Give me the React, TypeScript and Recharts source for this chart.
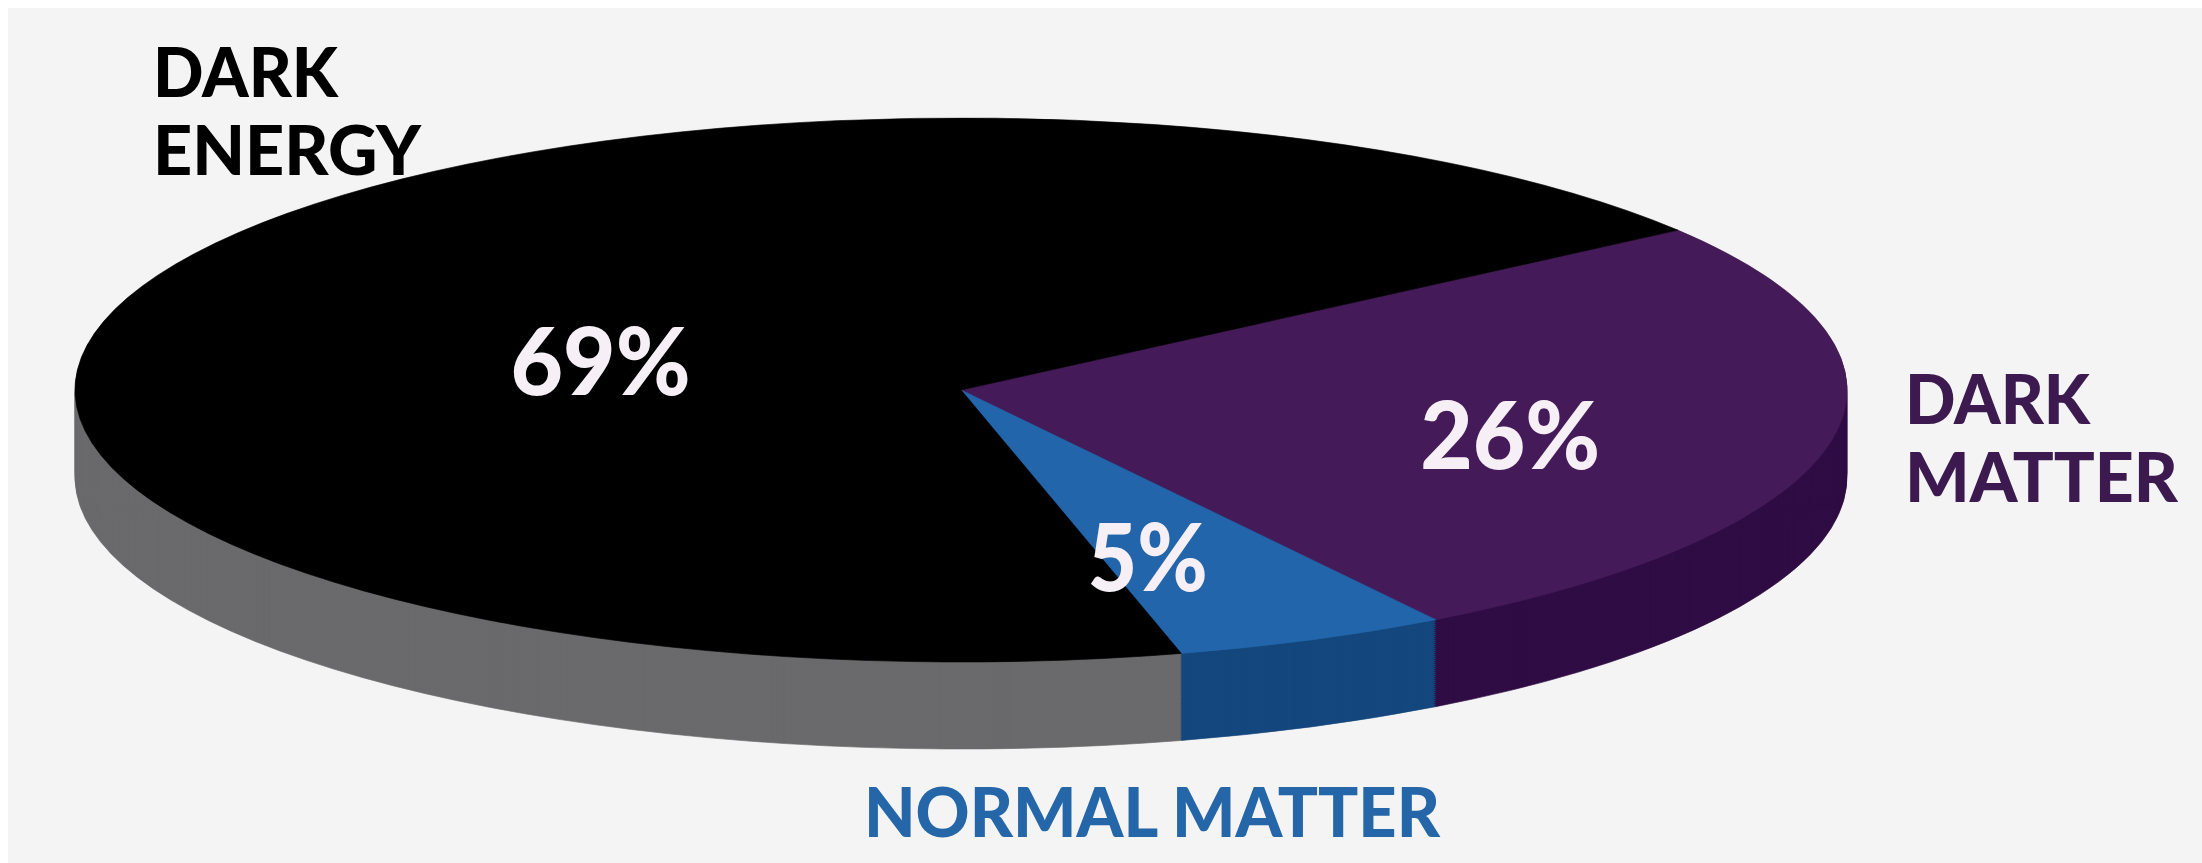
import React from 'react';
import { PieChart, Pie, Cell } from 'recharts';

// slices, clockwise from the top-right edge
const categories = ['DARK MATTER', 'NORMAL MATTER', 'DARK ENERGY'];
const shares = [26, 5, 69];
const topColors = ['#451a58', '#2265aa', '#000000'];
const sideColors = ['#2f0d44', '#14477d', '#6a6a6c'];

const data = categories.map((name, i) => ({ name, value: shares[i] }));

const W = 2202;
const H = 863;
const CX = 961;
const CY = 390;
const RX = 886;
const RY = 272;
const DEPTH = 87;
const K = RY / RX; // vertical squash of the disc
const START = 36;
const FONT = "Lato, 'Open Sans', sans-serif";

// percent label nudges: angle offset from mid angle, radius fraction, text width
const PCT_POS = [
  { da: -4.6, rf: 0.643, w: 180 },
  { da: -4.6, rf: 0.654, w: 120 },
  { da: 5.4, rf: 0.42, w: 180 },
];

// category name placement (page px): x, first baseline, line widths, colour
const NAME_POS = [
  { x: 1905, y: 424, widths: [185, 273], color: '#3c1a4f', oneLine: false },
  { x: 864, y: 837, widths: [576], color: '#2466a8', oneLine: true },
  { x: 153, y: 97, widths: [185, 268], color: '#000000', oneLine: false },
];

const layers: number[] = [];
for (let d = DEPTH; d > 0; d -= 2) layers.push(d);

const renderPct = (p: any) => {
  const i = categories.indexOf(p.name ?? p.payload?.name);
  const pos = PCT_POS[i];
  if (!pos) return null;
  const a = ((p.midAngle + pos.da) * Math.PI) / 180;
  const x = CX + RX * pos.rf * Math.cos(a);
  const y = CY / K - RX * pos.rf * Math.sin(a);
  return (
    <text
      transform={`translate(${x},${y}) scale(1,${1 / K})`}
      x={0}
      y={33}
      textAnchor="middle"
      fill="#f6f0f6"
      fontSize={93}
      fontWeight={900}
      fontFamily={FONT}
      textLength={pos.w}
      lengthAdjust="spacingAndGlyphs"
    >
      {p.value}%
    </text>
  );
};

export default function App() {
  return (
    <div style={{ position: 'fixed', left: 0, top: 0, width: W, height: H, background: '#ffffff', overflow: 'hidden' }}>
      <div style={{ position: 'absolute', left: 8, top: 8, width: W - 8, height: H - 8, background: '#f4f4f4' }} />
      <div style={{ position: 'absolute', left: 0, top: 0, width: W, height: H / K, transform: `scaleY(${K})`, transformOrigin: '0 0' }}>
        <PieChart width={W} height={H / K} margin={{ top: 0, right: 0, bottom: 0, left: 0 }}>
          {layers.map((d) => (
            <Pie
              key={d}
              data={data}
              dataKey="value"
              cx={CX}
              cy={(CY + d) / K}
              outerRadius={RX}
              startAngle={START}
              endAngle={START - 360}
              stroke="none"
              isAnimationActive={false}
            >
              {data.map((e, i) => <Cell key={e.name} fill={sideColors[i]} stroke={sideColors[i]} />)}
            </Pie>
          ))}
          <Pie
            data={data}
            dataKey="value"
            cx={CX}
            cy={CY / K}
            outerRadius={RX}
            startAngle={START}
            endAngle={START - 360}
            isAnimationActive={false}
            label={renderPct}
            labelLine={false}
          >
            {data.map((e, i) => <Cell key={e.name} fill={topColors[i]} stroke={topColors[i]} strokeWidth={1} />)}
          </Pie>
        </PieChart>
      </div>
      <svg width={W} height={H} style={{ position: 'absolute', left: 0, top: 0 }}>
        {categories.map((name, i) => {
          const pos = NAME_POS[i];
          const lines = pos.oneLine ? [name] : name.split(' ');
          return lines.map((ln, j) => (
            <text
              key={name + j}
              x={pos.x}
              y={pos.y + j * 78}
              fill={pos.color}
              fontSize={68}
              fontWeight={900}
              fontFamily={FONT}
              textLength={pos.widths[j]}
              lengthAdjust="spacingAndGlyphs"
            >
              {ln}
            </text>
          ));
        })}
      </svg>
    </div>
  );
}
